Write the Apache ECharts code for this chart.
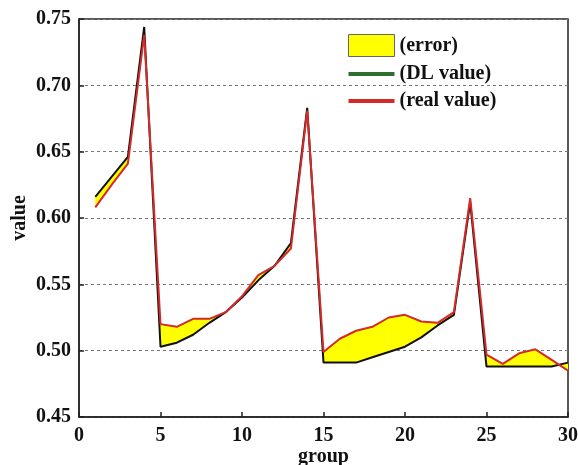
<!DOCTYPE html>
<html>
<head>
<meta charset="utf-8">
<script src="https://cdn.jsdelivr.net/npm/echarts@6/dist/echarts.min.js"></script>
<style>
  html, body { margin: 0; padding: 0; background: #fff; }
  .box { width: 578px; height: 465px; }
</style>
</head>
<body>
<div class="box"></div>
<script>
// data
var groups = [1, 2, 3, 4, 5, 6, 7, 8, 9, 10, 11, 12, 13, 14, 15,
              16, 17, 18, 19, 20, 21, 22, 23, 24, 25, 26, 27, 28, 29, 30];
var dlValues = [0.616, 0.631, 0.646, 0.744, 0.503, 0.506, 0.512, 0.521, 0.529, 0.540,
                0.553, 0.564, 0.581, 0.683, 0.491, 0.491, 0.491, 0.495, 0.499, 0.503,
                0.510, 0.519, 0.527, 0.612, 0.488, 0.488, 0.488, 0.488, 0.488, 0.491];
var realValues = [0.608, 0.625, 0.641, 0.738, 0.520, 0.518, 0.524, 0.524, 0.529, 0.541,
                  0.557, 0.564, 0.577, 0.681, 0.499, 0.509, 0.515, 0.518, 0.525, 0.527,
                  0.522, 0.521, 0.529, 0.615, 0.497, 0.490, 0.498, 0.501, 0.493, 0.485];
var legendNames = ["(error)", "(DL value)", "(real value)"];

(function () {
    var myChart = echarts.init(document.querySelector(".box"));
    var font = "Liberation Serif";
    // flat bar used as legend icon for the two lines
    var lineIcon = "path://M0,0 L44,0 L44,4 L0,4 Z";

    var option = {
        animation: false,
        grid: {
            left: 79, right: 10, top: 19, bottom: 48,
            outerBoundsMode: "none",
            show: true,
            borderColor: "#222",
            borderWidth: 1.5
        },
        legend: {
            orient: "vertical",
            left: 348,
            top: 34,
            padding: 0,
            itemWidth: 46,
            itemHeight: 22,
            itemGap: 7,
            textStyle: { fontFamily: font, fontWeight: "bold", fontSize: 20, color: "#111" },
            data: [
                { name: legendNames[0], icon: "rect",
                  itemStyle: { color: "#ffff00", borderColor: "#666", borderWidth: 1 } },
                { name: legendNames[1], icon: lineIcon,
                  itemStyle: { color: "#2e6e31", borderWidth: 0 } },
                { name: legendNames[2], icon: lineIcon,
                  itemStyle: { color: "#d42a2a", borderWidth: 0 } }
            ]
        },
        xAxis: {
            type: "value",
            min: 0, max: 30, interval: 5,
            name: "group",
            nameLocation: "middle",
            nameGap: 30,
            nameMoveOverlap: false,
            nameTextStyle: { fontFamily: font, fontWeight: "bold", fontSize: 20, color: "#111" },
            axisLine: { show: true, lineStyle: { color: "#222", width: 1.5 } },
            axisTick: { show: true, inside: true, length: 5, lineStyle: { color: "#222", width: 1.5 } },
            axisLabel: { margin: 9, fontFamily: font, fontWeight: "bold", fontSize: 20, color: "#111" },
            splitLine: { show: false }
        },
        yAxis: {
            type: "value",
            min: 0.45, max: 0.75, interval: 0.05,
            name: "value",
            nameLocation: "middle",
            nameGap: 49,
            nameMoveOverlap: false,
            nameTextStyle: { fontFamily: font, fontWeight: "bold", fontSize: 20, color: "#111" },
            axisLine: { show: true, lineStyle: { color: "#222", width: 1.5 } },
            axisTick: { show: true, inside: true, length: 5, lineStyle: { color: "#222", width: 1.5 } },
            axisLabel: {
                margin: 8, fontFamily: font, fontWeight: "bold", fontSize: 20, color: "#111",
                formatter: function (v) { return v.toFixed(2); }
            },
            splitLine: { show: true, lineStyle: { color: "#777", type: [3, 3], width: 1 } }
        },
        series: [
            {
                // yellow band between the two curves
                name: legendNames[0],
                type: "custom",
                clip: true,
                itemStyle: { color: "#ffff00" },
                data: groups.map(function (g, i) { return [g, dlValues[i], realValues[i]]; }),
                encode: { x: 0, y: [1, 2] },
                renderItem: function (params, api) {
                    var i = params.dataIndex;
                    if (i >= groups.length - 1) return null;
                    var pts = [
                        api.coord([groups[i], dlValues[i]]),
                        api.coord([groups[i + 1], dlValues[i + 1]]),
                        api.coord([groups[i + 1], realValues[i + 1]]),
                        api.coord([groups[i], realValues[i]])
                    ];
                    return {
                        type: "polygon",
                        shape: { points: pts },
                        style: { fill: "#ffff00", stroke: "#ffff00", lineWidth: 0.6 }
                    };
                }
            },
            {
                name: legendNames[1],
                type: "line",
                symbol: "none",
                lineStyle: { color: "#111", width: 2 },
                itemStyle: { color: "#111" },
                data: groups.map(function (g, i) { return [g, dlValues[i]]; })
            },
            {
                name: legendNames[2],
                type: "line",
                symbol: "none",
                lineStyle: { color: "#d42a2a", width: 2 },
                itemStyle: { color: "#d42a2a" },
                data: groups.map(function (g, i) { return [g, realValues[i]]; })
            }
        ]
    };

    myChart.setOption(option);

    window.addEventListener("resize", function () {
        myChart.resize();
    });
})();
</script>
</body>
</html>
